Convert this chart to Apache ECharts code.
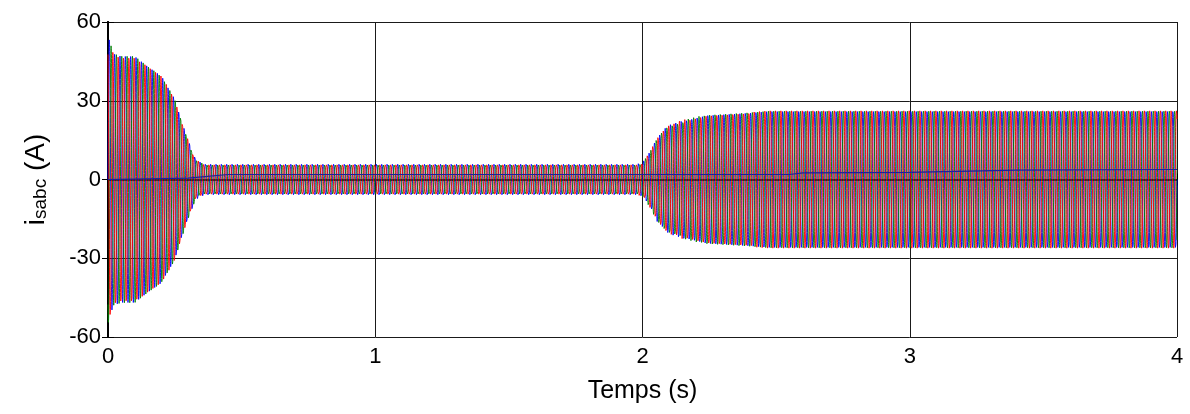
<!DOCTYPE html>
<html>
<head>
<meta charset="utf-8">
<script src="https://cdn.jsdelivr.net/npm/echarts@6/dist/echarts.min.js"></script>
<style>
  html, body { margin: 0; padding: 0; background: #fff; }
  #chart { width: 1190px; height: 414px; }
</style>
</head>
<body>
<div id="chart"></div>
<script>
// Stator current amplitude envelope (A) versus time (s)
const envTime = [0, 0.02, 0.05, 0.1, 0.15, 0.2, 0.25, 0.3, 0.33, 0.36, 1.0, 1.98, 2.0, 2.03, 2.06, 2.1, 2.17, 2.24, 2.32, 2.4, 2.47, 4.0];
const envAmp  = [55, 48, 47, 47, 43, 39.5, 31, 15, 7.5, 6.1, 6.1, 6.1, 6.5, 11, 17, 21, 23.2, 25, 25.5, 26, 26.6, 26.6];

// Supply frequency (Hz)
const supplyHz = 50;

// Logged slowly varying trace near zero
const dcTime = [0, 0.3, 0.45, 2.0, 2.55, 2.6, 3.0, 3.4, 4.0];
const dcVal  = [0, 0.5, 1.9, 1.9, 1.9, 2.5, 2.7, 3.6, 3.8];

// Axis ticks
const xTicks = [0, 1, 2, 3, 4];
const yTicks = [-60, -30, 0, 30, 60];

const phaseNames = ['isa', 'isb', 'isc'];
const phaseColors = ['#0000ff', '#008000', '#ff0000'];
const phaseShift = [0, -2 * Math.PI / 3, 2 * Math.PI / 3];
const sampleStep = 0.00025;   // solver output step (s)
const tEnd = 4;

function interp(xs, ys, x) {
  if (x <= xs[0]) return ys[0];
  for (let i = 1; i < xs.length; i++) {
    if (x <= xs[i]) {
      const f = (x - xs[i - 1]) / (xs[i] - xs[i - 1]);
      return ys[i - 1] + f * (ys[i] - ys[i - 1]);
    }
  }
  return ys[ys.length - 1];
}

function phaseSamples(p) {
  const out = [];
  const n = Math.round(tEnd / sampleStep);
  for (let k = 0; k <= n; k++) {
    const t = k * sampleStep;
    out.push([t, interp(envTime, envAmp, t) * Math.sin(2 * Math.PI * supplyHz * t + phaseShift[p])]);
  }
  return out;
}

const series = phaseNames.map((n, p) => ({
  name: n,
  type: 'line',
  data: phaseSamples(p),
  showSymbol: false,
  sampling: 'none',
  progressive: 0,
  large: false,
  lineStyle: { color: phaseColors[p], width: 0.9 },
  animation: false,
  silent: true,
  z: 2 + p
}));

series.push({
  name: 'dc',
  type: 'line',
  data: dcTime.map((t, i) => [t, dcVal[i]]),
  showSymbol: false,
  lineStyle: { color: '#1f1f9a', width: 1.2 },
  animation: false,
  silent: true,
  z: 6
});

const font = 'Liberation Sans, Arial, sans-serif';
const chart = echarts.init(document.getElementById('chart'), null, { renderer: 'canvas' });

const axisLine = { show: true, lineStyle: { color: '#000', width: 2 } };
const tick = { show: true, inside: true, length: 6, lineStyle: { color: '#000', width: 1 } };

chart.setOption({
  backgroundColor: '#ffffff',
  animation: false,
  grid: { left: 108, right: 13, top: 22, bottom: 77, containLabel: false },
  xAxis: [{
    type: 'value', min: xTicks[0], max: xTicks[xTicks.length - 1], interval: 1,
    axisLine, axisTick: tick,
    axisLabel: { color: '#000', fontSize: 22, fontFamily: font, margin: 9 },
    splitLine: { show: true, lineStyle: { color: '#1a1a1a', width: 1 } },
    name: 'Temps (s)', nameLocation: 'middle', nameGap: 42,
    nameTextStyle: { color: '#000', fontSize: 25, fontFamily: font }
  }, {
    type: 'value', position: 'top', min: 0, max: 4, interval: 1,
    axisLine, axisTick: tick, axisLabel: { show: false }, splitLine: { show: false }
  }],
  yAxis: [{
    type: 'value', min: yTicks[0], max: yTicks[yTicks.length - 1], interval: 30,
    axisLine, axisTick: tick,
    axisLabel: { color: '#000', fontSize: 22, fontFamily: font, margin: 7 },
    splitLine: { show: true, lineStyle: { color: '#1a1a1a', width: 1 } },
    name: '{i|i}{s|sabc}{n| (A)}', nameLocation: 'middle', nameGap: 58, nameRotate: 90,
    nameTextStyle: {
      color: '#000', fontFamily: font,
      rich: {
        i: { fontSize: 28, fontFamily: font, color: '#000', lineHeight: 34, verticalAlign: 'bottom' },
        s: { fontSize: 19, fontFamily: font, color: '#000', lineHeight: 34, verticalAlign: 'bottom', padding: [12, 0, 0, 0] },
        n: { fontSize: 28, fontFamily: font, color: '#000', lineHeight: 34, verticalAlign: 'bottom' }
      }
    }
  }, {
    type: 'value', position: 'right', min: -60, max: 60, interval: 30,
    axisLine, axisTick: tick, axisLabel: { show: false }, splitLine: { show: false }
  }],
  series
});
</script>
</body>
</html>
